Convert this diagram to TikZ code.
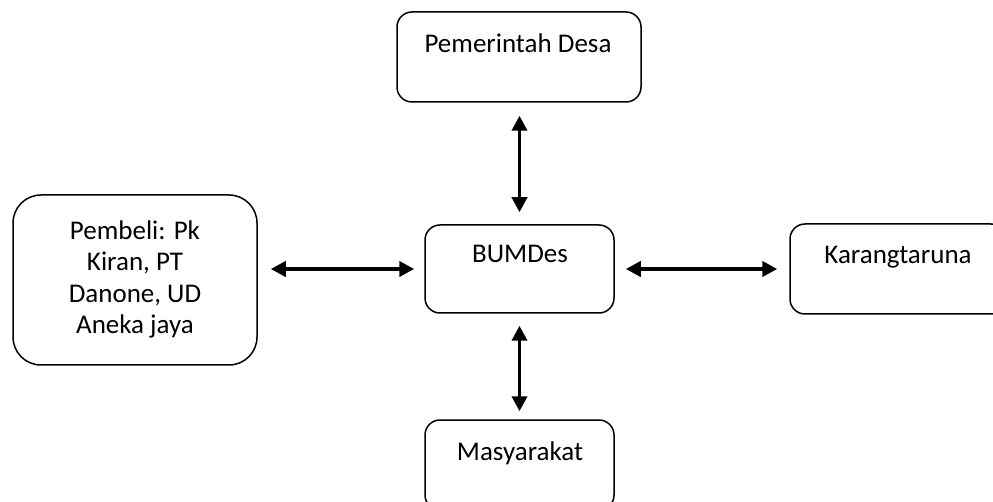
\documentclass[tikz,border=0pt]{standalone}
\usepackage{fontspec}
\setmainfont{Carlito}
\usetikzlibrary{arrows.meta}
\tikzset{
  box/.style={draw=black, line width=1.5pt, rectangle, inner sep=0pt, rounded corners=#1},
  box/.default=15pt,
  lbl/.style={anchor=base, inner sep=0pt, font=\fontsize{27pt}{31.5pt}\selectfont, align=center},
  biarrow/.style={line width=3.8pt, {Triangle[length=15pt,width=15pt]}-{Triangle[length=15pt,width=15pt]}}
}
\begin{document}
\begin{tikzpicture}[x=1pt,y=-1pt]
\clip (0,0) rectangle (993,502);
\fill[white] (0,0) rectangle (993,502);
\node[box, minimum width=244pt, minimum height=90pt] (pem) at (519,57) {};
\node[box=28pt, minimum width=244pt, minimum height=170pt] (pbl) at (135,280) {};
\node[box, minimum width=189pt, minimum height=88pt] (bum) at (519.5,269) {};
\node[box, minimum width=216pt, minimum height=90pt] (kar) at (898,269) {};
\node[box, minimum width=189pt, minimum height=90pt] (mas) at (519.5,465) {};

\node[lbl] (tpem) at (518,53) {Pemerintah Desa};
\node[lbl] (tpbl) at (135,334) {Pembeli: Pk\\Kiran, PT\\Danone, UD\\Aneka jaya};
\node[lbl] (tbum) at (520,263) {BUMDes};
\node[lbl] (tkar) at (898,264) {Karangtaruna};
\node[lbl] (tmas) at (520,460) {Masyarakat};

\draw[biarrow, shorten <=13pt, shorten >=10pt] (pbl.east |- bum.west) -- (bum.west);
\draw[biarrow, shorten <=11pt, shorten >=12pt] (bum.east) -- (kar.west);
\draw[biarrow, shorten <=13pt, shorten >=12pt] (pem.south -| bum.north) -- (bum.north);
\draw[biarrow, shorten <=12pt, shorten >=8pt] (bum.south) -- (mas.north);
\end{tikzpicture}
\end{document}
